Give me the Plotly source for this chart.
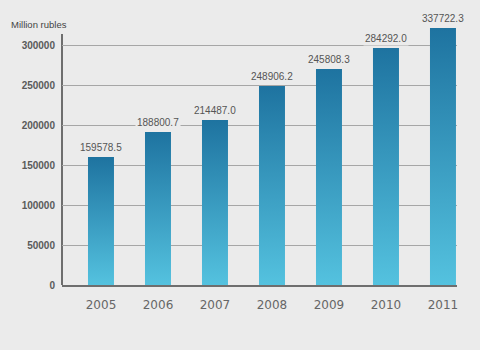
import plotly.graph_objects as go

# ---- data ----
years = [2005, 2006, 2007, 2008, 2009, 2010, 2011]
# bar heights as drawn in the reference
bar_values = [160000, 191250, 206250, 248750, 270000, 296250, 321250]
# value labels as printed in the reference
value_labels = ["159578.5", "188800.7", "214487.0", "248906.2", "245808.3", "284292.0", "337722.3"]
y_ticks = [0, 50000, 100000, 150000, 200000, 250000, 300000]
unit_label = "Million rubles"

BAR_W = 0.456
TOP_COLOR = "#1e73a0"
BOTTOM_COLOR = "#54c2df"
BG = "#ebebeb"

fig = go.Figure()

for yr, v in zip(years, bar_values):
    x0, x1 = yr - BAR_W / 2, yr + BAR_W / 2
    fig.add_trace(go.Scatter(
        x=[x0, x1, x1, x0, x0],
        y=[0, 0, v, v, 0],
        mode="lines",
        line=dict(width=0),
        fill="toself",
        fillgradient=dict(type="vertical",
                          colorscale=[[0, BOTTOM_COLOR], [1, TOP_COLOR]]),
        hoverinfo="skip",
        showlegend=False,
    ))

for yr, v, lab in zip(years, bar_values, value_labels):
    fig.add_annotation(x=yr, y=v, text=lab, showarrow=False,
                       xanchor="center", yanchor="bottom", yshift=2,
                       bgcolor=BG, borderpad=1,
                       font=dict(family="Liberation Sans", size=10, color="#555555"))

fig.add_annotation(xref="paper", yref="paper", x=0, y=1, text=unit_label,
                   showarrow=False, xanchor="right", yanchor="bottom",
                   xshift=7, yshift=-6,
                   font=dict(family="Liberation Sans", size=9.5, color="#444444"))

Y_AXIS_TOP = 313750
fig.add_shape(type="line", xref="paper", yref="y", x0=0, x1=0, y0=0, y1=Y_AXIS_TOP,
              line=dict(color="#6e6e6e", width=2), layer="below")

fig.update_layout(
    width=480, height=350,
    margin=dict(l=62, r=23, t=26, b=65),
    paper_bgcolor=BG, plot_bgcolor=BG,
    showlegend=False,
    xaxis=dict(
        range=[2004.316, 2011.246],
        tickvals=years, ticktext=[str(y) for y in years],
        showgrid=False, zeroline=False,
        showline=True, linecolor="#6e6e6e", linewidth=2,
        ticks="outside", ticklen=8, tickcolor="rgba(0,0,0,0)",
        tickfont=dict(family="DejaVu Sans", size=12, color="#666666"),
        layer="below traces", fixedrange=True,
    ),
    yaxis=dict(
        range=[0, 323750],
        tickvals=y_ticks, ticktext=[str(t) for t in y_ticks],
        showgrid=True, gridcolor="#a6a6a6", gridwidth=1,
        zeroline=False, showline=False,
        ticks="outside", ticklen=4, tickcolor="rgba(0,0,0,0)",
        tickfont=dict(family="Liberation Sans", size=10, color="#5a5a5a", weight="bold"),
        layer="below traces", fixedrange=True,
    ),
)

fig.write_html("out.html")
